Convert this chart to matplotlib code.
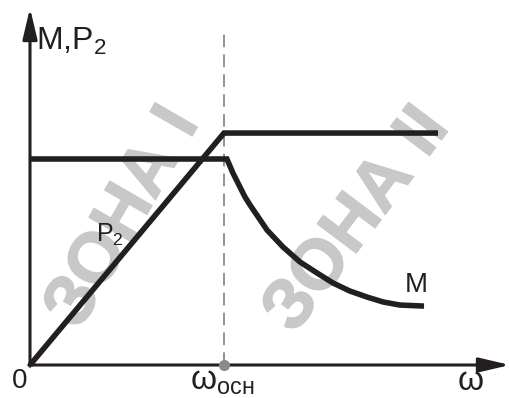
import matplotlib
matplotlib.use("Agg")
import matplotlib.pyplot as plt
import matplotlib.patheffects as pe

# ---- data (omega in units of omega_osn, values in units of M at base) ----
p2_omega = [0.0, 1.0, 2.103]
p2_value = [0.0, 1.126, 1.126]

m_omega = [0.0, 1.015, 1.046, 1.108, 1.134, 1.222, 1.304, 1.392, 1.479,
           1.562, 1.649, 1.737, 1.820, 1.907, 2.031]
m_value = [1.0, 1.0, 0.932, 0.816, 0.777, 0.655, 0.573, 0.500, 0.447,
           0.398, 0.359, 0.330, 0.306, 0.291, 0.286]

omega_osn = 1.0

ink = '#231f20'
wm = '#c8c8c8'
plt.rcParams['font.family'] = ['Liberation Sans', 'DejaVu Sans']

fig = plt.figure(figsize=(5.10, 3.98), dpi=100)
ax = fig.add_axes([0, 0, 1, 1])
ax.set_xlim(-30/194, 480/194)
ax.set_ylim(-33/206, 365/206)
ax.axis('off')

# watermarks
thick = [pe.withStroke(linewidth=1.0, foreground=wm)]
ax.text(0.485, 0.714, 'ЗОНА I', rotation=60, color=wm, fontsize=51,
        fontweight='bold', ha='center', va='center', zorder=1,
        rotation_mode='anchor', path_effects=thick)
ax.text(1.69, 0.70, 'ЗОНА II', rotation=53, color=wm, fontsize=51,
        fontweight='bold', ha='center', va='center', zorder=1,
        rotation_mode='anchor', path_effects=thick)

# axes with arrows
arrow_style = '-|>,head_length=0.85,head_width=0.2'
ax.annotate('', xy=(0, 357/206), xytext=(0, -0.006),
            arrowprops=dict(arrowstyle=arrow_style, lw=2.2, color=ink,
                            mutation_scale=22, shrinkA=0, shrinkB=0),
            zorder=3)
ax.annotate('', xy=(480/194, 0), xytext=(-0.006, 0),
            arrowprops=dict(arrowstyle=arrow_style, lw=2.2, color=ink,
                            mutation_scale=22, shrinkA=0, shrinkB=0),
            zorder=3)

# dashed vertical line at omega_osn
ax.plot([omega_osn, omega_osn], [0, 335/206], color='#8a8a8a', lw=1.3,
        dashes=(7, 4), zorder=2)
ax.plot([omega_osn], [0], 'o', color='#8a8a8a', ms=8, zorder=4,
        markeredgewidth=0)

# curves
ax.plot(p2_omega, p2_value, color=ink, lw=4, solid_joinstyle='miter',
        solid_capstyle='butt', zorder=3)
ax.plot(m_omega, m_value, color=ink, lw=4, solid_joinstyle='miter',
        solid_capstyle='butt', zorder=3)

# labels
ax.text(0.03, 1.57, 'M,P$_\\mathregular{2}$', fontsize=23, color=ink,
        ha='left', va='center')
ax.text(0.34, 0.63, 'P$_\\mathregular{2}$', fontsize=18, color=ink,
        ha='left', va='center')
ax.text(1.93, 0.39, 'M', fontsize=20, color=ink, ha='left', va='center')
ax.text(-0.055, -0.08, '0', fontsize=20, color=ink, ha='center', va='center')
ax.text(2.27, -0.08, 'ω', fontsize=24, color=ink, ha='center', va='center')
ax.text(0.99, -0.08, 'ω$_\\mathregular{осн}$', fontsize=24, color=ink,
        ha='center', va='center')

fig.savefig('out.png', dpi=100)
